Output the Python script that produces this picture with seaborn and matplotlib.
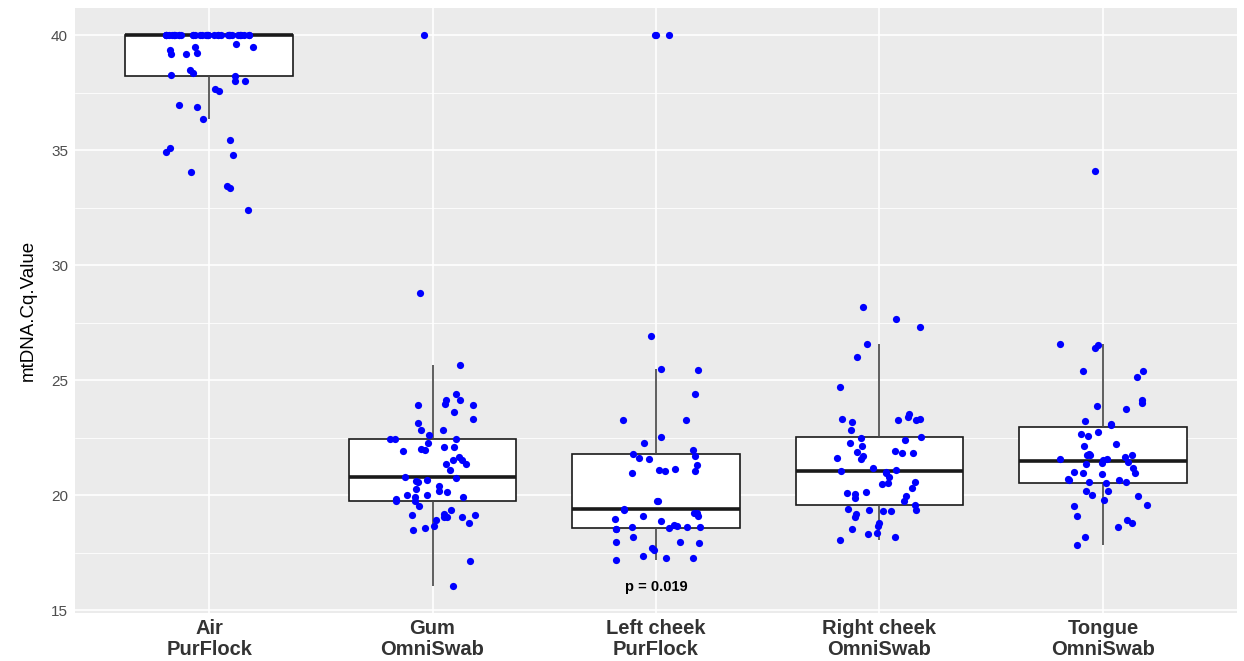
import numpy as np
import pandas as pd
import matplotlib
matplotlib.use("Agg")
import matplotlib.pyplot as plt
import seaborn as sns
from matplotlib.ticker import MultipleLocator

# Sample groups (x axis) and mtDNA Cq values
groups = ["Air\nPurFlock", "Gum\nOmniSwab", "Left cheek\nPurFlock",
          "Right cheek\nOmniSwab", "Tongue\nOmniSwab"]

air = [40.0] * 36 + [39.49, 39.49, 39.18, 39.62, 39.36, 39.25, 39.18, 38.37, 38.30,
                     38.51, 38.22, 38.00, 38.00, 37.67, 37.60, 36.88, 36.97, 36.39,
                     35.46, 35.12, 34.93, 34.80, 34.08, 33.47, 33.36, 32.40]

gum = [40.0, 28.82, 25.69, 24.43, 24.14, 24.14, 23.97, 23.91, 23.91, 23.64, 23.32,
       23.16, 22.86, 22.86, 22.61, 22.45, 22.47, 22.44, 22.28, 22.09, 22.09, 21.97,
       22.00, 21.92, 21.66, 21.53, 21.54, 21.38, 21.36, 21.11, 20.82, 20.75, 20.60,
       20.66, 20.62, 20.42, 20.16, 20.18, 20.27, 20.03, 19.94, 19.94, 20.00, 19.85,
       19.74, 19.74, 19.52, 19.38, 19.14, 19.06, 19.16, 19.07, 19.19, 19.06, 18.94,
       18.78, 18.58, 18.48, 18.65, 17.14, 16.08]

left_cheek = [40.0, 40.0, 40.0, 26.94, 25.50, 25.44, 24.43, 23.28, 23.26, 22.54, 22.27,
              21.96, 21.64, 21.72, 21.82, 21.57, 21.31, 21.04, 21.08, 21.11, 20.98,
              21.15, 19.75, 19.75, 19.38, 19.41, 19.23, 19.23, 19.10, 19.10, 18.97,
              18.88, 18.65, 18.57, 18.54, 18.63, 18.71, 18.54, 18.63, 18.63, 18.17,
              17.99, 17.93, 17.96, 17.73, 17.63, 17.28, 17.38, 17.18, 17.28]

right_cheek = [28.21, 27.68, 27.32, 26.58, 26.02, 24.72, 23.55, 23.30, 23.33, 23.28,
               23.26, 23.42, 23.20, 22.86, 22.55, 22.48, 22.41, 22.26, 22.15, 21.95,
               21.87, 21.83, 21.86, 21.72, 21.59, 21.61, 21.18, 21.04, 21.01, 21.11,
               20.96, 20.82, 20.55, 20.60, 20.50, 20.32, 20.16, 20.10, 20.07, 19.97,
               19.87, 19.77, 19.59, 19.33, 19.39, 19.33, 19.38, 19.38, 19.06, 19.17,
               18.68, 18.78, 18.52, 18.34, 18.21, 18.36, 18.05]

tongue = [34.11, 26.42, 26.52, 26.58, 25.40, 25.40, 25.14, 24.14, 23.77, 23.90, 24.01,
          23.25, 23.09, 23.04, 22.74, 22.67, 22.58, 22.23, 22.13, 21.82, 21.77, 21.74,
          21.77, 21.57, 21.60, 21.69, 21.54, 21.44, 21.41, 21.36, 21.17, 21.02, 20.96,
          20.93, 20.96, 20.65, 20.59, 20.55, 20.66, 20.70, 20.56, 20.20, 19.82, 20.01,
          20.18, 19.98, 19.59, 19.52, 19.10, 18.62, 18.91, 18.78, 18.18, 17.86]

p_label = "p = 0.019"
p_label_group = 2
p_label_y = 16.0

values = [air, gum, left_cheek, right_cheek, tongue]
df = pd.DataFrame({
    "group": np.repeat(groups, [len(v) for v in values]),
    "mtDNA.Cq.Value": np.concatenate(values),
})

# ggplot-like grey panel
sns.set_theme(style="darkgrid", rc={
    "axes.facecolor": "#EBEBEB",
    "grid.color": "white",
    "grid.linewidth": 1.2,
})
plt.rcParams["font.family"] = ["Liberation Sans", "DejaVu Sans"]

fig = plt.figure(figsize=(12.44, 6.61), dpi=100)
ax = fig.add_axes([0.0603, 0.0726, 0.9341, 0.9153])

sns.boxplot(data=df, x="group", y="mtDNA.Cq.Value", order=groups, width=0.75,
            color="white", saturation=1, linecolor="#1a1a1a", linewidth=1.2,
            showfliers=False, showcaps=False,
            whiskerprops={"color": "#444444"},
            medianprops={"linewidth": 2.6, "color": "#1a1a1a"}, ax=ax)

np.random.seed(11)
sns.stripplot(data=df, x="group", y="mtDNA.Cq.Value", order=groups, jitter=0.2,
              color="#0000FF", size=5.2, linewidth=0, zorder=3, ax=ax)

ax.text(p_label_group, p_label_y, p_label, ha="center", va="center",
        fontsize=10.5, fontweight="bold", color="black")

# 5% expansion like ggplot
vals = df["mtDNA.Cq.Value"]
span = vals.max() - vals.min()
ax.set_ylim(vals.min() - 0.05 * span, vals.max() + 0.05 * span)
ax.set_xlim(-0.6, len(groups) - 0.4)

ax.yaxis.set_major_locator(MultipleLocator(5))
ax.yaxis.set_minor_locator(MultipleLocator(2.5))
ax.grid(which="major", color="white", linewidth=1.2)
ax.grid(which="minor", axis="y", color="white", linewidth=0.6)
ax.set_axisbelow(True)
for s in ax.spines.values():
    s.set_visible(False)

ax.tick_params(axis="both", which="major", length=3, width=1, color="#333333", pad=2)
ax.tick_params(axis="y", which="minor", length=0)
ax.tick_params(axis="y", labelsize=11, labelcolor="#4D4D4D")
ax.tick_params(axis="x", labelsize=14.5, labelcolor="#333333", pad=1)
for lab in ax.get_xticklabels():
    lab.set_fontweight("bold")
    lab.set_linespacing(1.15)

ax.set_xlabel("")
ax.set_ylabel("mtDNA.Cq.Value", fontsize=13.5, color="black", labelpad=10)

fig.savefig("out.png", dpi=100)
